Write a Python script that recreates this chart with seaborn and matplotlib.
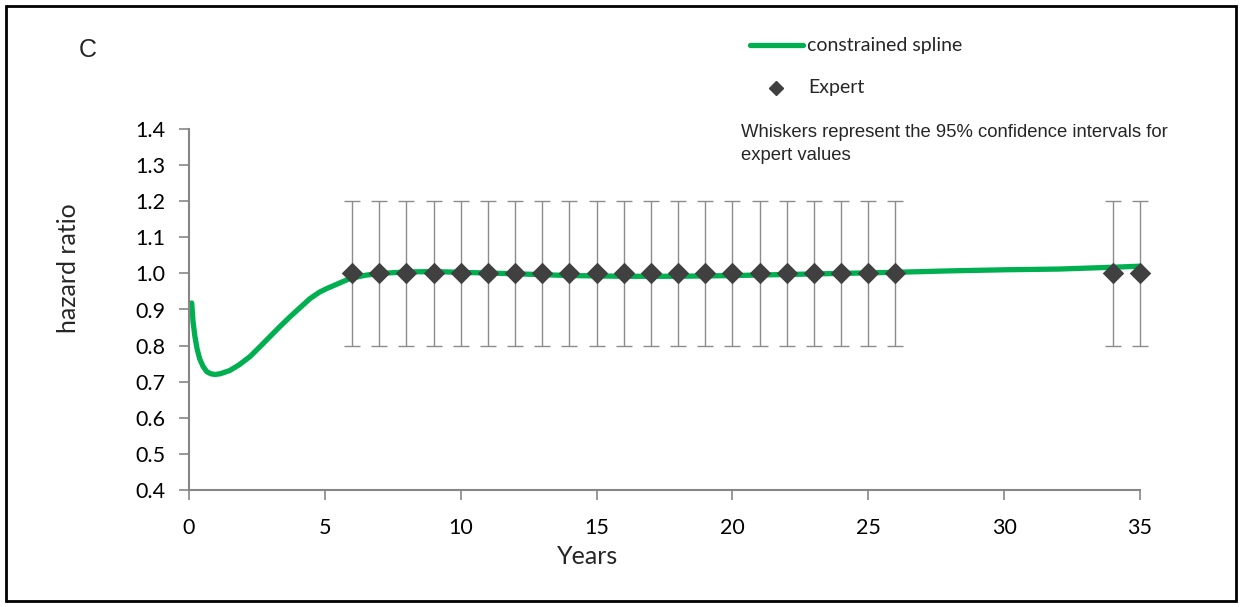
import matplotlib
matplotlib.use("Agg")
import matplotlib.pyplot as plt
from matplotlib.patches import Rectangle
from matplotlib.lines import Line2D
import seaborn as sns
import pandas as pd

# Fitted hazard-ratio curve (constrained spline)
spline_years = [0.1, 0.15, 0.22, 0.3, 0.4, 0.52, 0.65, 0.8, 0.96, 1.15, 1.5, 1.85, 2.25, 2.6,
                2.98, 3.35, 3.72, 4.1, 4.45, 4.8, 5.07, 5.5, 5.93, 6.5, 7.03, 8.0, 9.0, 10.0,
                12.0, 14.0, 16.0, 18.0, 20.0, 22.0, 24.0, 26.0, 28.0, 30.0, 32.0, 34.0, 35.0]
spline_hr = [0.918, 0.865, 0.824, 0.79, 0.762, 0.742, 0.728, 0.722, 0.72, 0.722, 0.731, 0.747,
             0.77, 0.796, 0.825, 0.853, 0.88, 0.906, 0.93, 0.948, 0.958, 0.972, 0.986, 0.995,
             1.0, 1.004, 1.005, 1.003, 0.999, 0.994, 0.992, 0.992, 0.994, 0.997, 1.0, 1.003,
             1.007, 1.01, 1.012, 1.017, 1.02]

# Expert elicited values with 95% confidence limits
expert_years = [6, 7, 8, 9, 10, 11, 12, 13, 14, 15, 16, 17, 18, 19, 20, 21, 22, 23, 24, 25, 26, 34, 35]
expert_hr = [1.0] * len(expert_years)
expert_lo = [0.8] * len(expert_years)
expert_hi = [1.2] * len(expert_years)

x_ticks = [0, 5, 10, 15, 20, 25, 30, 35]
y_ticks = [0.4, 0.5, 0.6, 0.7, 0.8, 0.9, 1.0, 1.1, 1.2, 1.3, 1.4]

sns.set_style("white")
plt.rcParams["font.family"] = ["Lato", "DejaVu Sans"]

GREEN = "#00B050"
DIAMOND = "#404040"
AXIS = "#868686"
WHISKER = "#8C8C8C"

W, H = 1242, 607

spline_df = pd.DataFrame({"Years": spline_years, "hazard ratio": spline_hr})
expert_df = pd.DataFrame({"Years": expert_years, "hazard ratio": expert_hr,
                          "lo": expert_lo, "hi": expert_hi})

fig = plt.figure(figsize=(W / 100, H / 100), dpi=100)
ax = fig.add_axes([189 / W, 1 - 490 / H, (1140 - 189) / W, (490 - 129) / H])

# whiskers for expert values
err = ax.errorbar(expert_df["Years"], expert_df["hazard ratio"],
                  yerr=[expert_df["hazard ratio"] - expert_df["lo"],
                        expert_df["hi"] - expert_df["hazard ratio"]],
                  fmt="none", ecolor=WHISKER, elinewidth=1.0, capsize=6, capthick=1.0, zorder=1)
for part in err.lines[1] + err.lines[2]:
    part.set_clip_on(False)

sns.lineplot(data=spline_df, x="Years", y="hazard ratio", ax=ax, color=GREEN,
             linewidth=3.8, zorder=2, legend=False, clip_on=False)
sns.scatterplot(data=expert_df, x="Years", y="hazard ratio", ax=ax, marker="D", s=120,
                color=DIAMOND, edgecolor=DIAMOND, linewidth=0, zorder=3, legend=False,
                clip_on=False)

ax.set_xlim(0, 35)
ax.set_ylim(0.4, 1.4)
ax.set_xticks(x_ticks)
ax.set_yticks(y_ticks)
ax.set_xticklabels([str(v) for v in x_ticks])
ax.set_yticklabels([f"{v:.1f}" for v in y_ticks])

for side in ("top", "right"):
    ax.spines[side].set_visible(False)
for side in ("left", "bottom"):
    ax.spines[side].set_color(AXIS)
    ax.spines[side].set_linewidth(1.5)
ax.tick_params(axis="both", which="major", direction="out", length=7, width=1.2,
               color=AXIS, labelsize=15.5, labelcolor="black", left=True, bottom=True)
ax.tick_params(axis="x", pad=13)
ax.tick_params(axis="y", pad=10)

ax.set_xlabel("")
ax.set_ylabel("")
fig.text(588 / W, 1 - 557 / H, "Years", fontsize=18, ha="center", va="center")
fig.text(68 / W, 1 - 268 / H, "hazard ratio", fontsize=18, ha="center", va="center", rotation=90)

# panel letter
fig.text(79 / W, 1 - 50 / H, "C", fontsize=18, family="Liberation Sans", va="center", ha="left")

# legend
fig.add_artist(Line2D([750 / W, 803 / W], [1 - 45 / H, 1 - 45 / H],
                      color=GREEN, linewidth=3.8, solid_capstyle="round", transform=fig.transFigure))
fig.text(807 / W, 1 - 45 / H, "constrained spline", fontsize=14, va="center", ha="left")
fig.add_artist(Line2D([776 / W], [1 - 88 / H], marker="D", markersize=7, color=DIAMOND,
                      linestyle="none", transform=fig.transFigure))
fig.text(808 / W, 1 - 88 / H, "Expert", fontsize=14, va="center", ha="left")

fig.text(741 / W, 1 - 124 / H, "Whiskers represent the 95% confidence intervals for\nexpert values",
         fontsize=13.3, family="Liberation Sans", va="top", ha="left", linespacing=1.45)

# outer frame
fig.add_artist(Rectangle((6 / W, 6 / H), 1230 / W, 595 / H, transform=fig.transFigure,
                         fill=False, edgecolor="black", linewidth=2))

fig.savefig("out.png", dpi=100)
